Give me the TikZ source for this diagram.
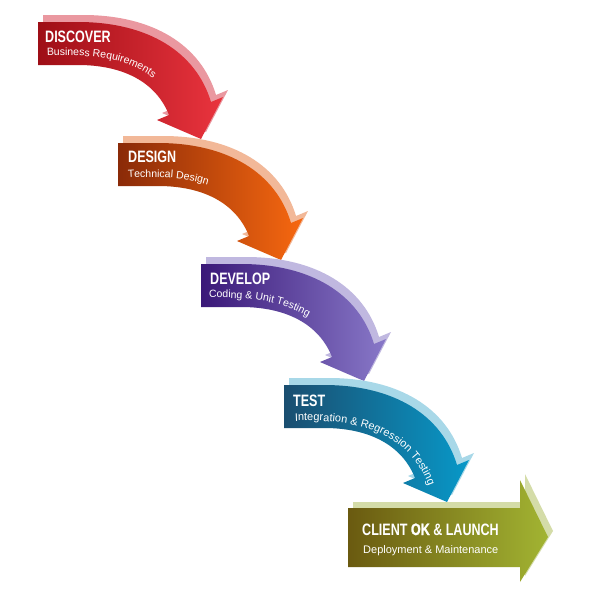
\documentclass[tikz,border=0pt]{standalone}
\usepackage{fontspec}
\usetikzlibrary{decorations.text}
\setmainfont{Liberation Sans}
\newfontfamily\titlefont{Liberation Sans}[FakeStretch=0.76]
\newfontfamily\heavyfont{Liberation Sans}[FakeStretch=0.76,FakeBold=1.5]
\newfontfamily\subfont{Liberation Sans}

\definecolor{discoverdark}{HTML}{9E0E16}
\definecolor{discoverlight}{HTML}{EA343E}
\definecolor{discoverside}{HTML}{EA98A0}
\definecolor{designdark}{HTML}{8A2A08}
\definecolor{designlight}{HTML}{F76810}
\definecolor{designside}{HTML}{F2B898}
\definecolor{developdark}{HTML}{3A1878}
\definecolor{developlight}{HTML}{8878C8}
\definecolor{developside}{HTML}{C0B8E0}
\definecolor{testdark}{HTML}{1A4E70}
\definecolor{testlight}{HTML}{0898C8}
\definecolor{testside}{HTML}{A8D8E8}
\definecolor{launchdark}{HTML}{6A5A10}
\definecolor{launchlight}{HTML}{A2B432}
\definecolor{launchside}{HTML}{D4DCA8}

% curved stage arrow: x, y, dark, light, side colour
\newcommand{\stagearrow}[5]{%
  \begin{scope}[shift={(#1,#2)}]
    \fill [#5] (5,-7) -- (45,-7) .. controls (115,-7) and (163,23) .. (178,73) -- (190,68) -- (168,110) -- (124,91) -- (136,86) .. controls (123,53) and (90,36) .. (45,36) -- (5,36) -- cycle;
    \shade [left color=#3, right color=#4] (0,0) -- (40,0) .. controls (110,0) and (158,30) .. (173,80) -- (185,75) -- (163,117) -- (119,98) -- (131,93) .. controls (118,60) and (85,43) .. (40,43) -- (0,43) -- cycle;
  \end{scope}}

\begin{document}
\begin{tikzpicture}[x=1pt,y=-1pt]
        \tikzstyle{title}=[text=white, inner sep=0pt, anchor=base west, font=\titlefont\bfseries\fontsize{16.5}{18}\selectfont]
        \tikzstyle{subtitle}=[text=white, inner sep=0pt, anchor=base west, font=\subfont\fontsize{11}{13}\selectfont]
        \tikzstyle{curved}=[decorate, decoration={text along path, text align=left}]
        \fill [white] (0,0) rectangle (600,600);
        \useasboundingbox (0,0) rectangle (600,600);
        % the four curved stages
        \stagearrow{38}{22}{discoverdark}{discoverlight}{discoverside}
        \stagearrow{118}{143}{designdark}{designlight}{designside}
        \stagearrow{201}{264}{developdark}{developlight}{developside}
        \stagearrow{284}{385}{testdark}{testlight}{testside}
        % launch stage
        \fill [launchside] (353,502) -- (525,502) -- (525,474) -- (553,531) -- (525,576) -- (525,561) -- (353,561) -- cycle;
        \shade [left color=launchdark, right color=launchlight] (348,508) -- (520,508) -- (520,480) -- (548,537) -- (520,582) -- (520,567) -- (348,567) -- cycle;
        % titles
        \node [title] (discover) at (45,42) {DISCOVER};
        \node [title] (design) at (128,162) {DESIGN};
        \node [title] (develop) at (210,284) {DEVELOP};
        \node [title] (test) at (293,406) {TEST};
        \node [title] (launch) at (362,535) {CLIENT {\heavyfont\bfseries OK} \& LAUNCH};
        % subtitles
        \path [curved, decoration={text={|\subfont\fontsize{10.5}{12}\selectfont\color{white}|Business Requirements}}] (47,56) .. controls (105,54) and (135,60) .. (165,88);
        \path [curved, decoration={text={|\subfont\fontsize{10.5}{12}\selectfont\color{white}|Technical Design}}] (128,178) .. controls (165,176) and (195,178) .. (222,190);
        \path [curved, decoration={text={|\subfont\fontsize{10.5}{12}\selectfont\color{white}|Coding {\&} Unit Testing}}] (209,298) .. controls (255,297) and (290,302) .. (322,326);
        \path [curved, decoration={text={|\subfont\fontsize{11}{13}\selectfont\color{white}|Integration {\&} Regression Testing}}] (295,421) .. controls (365,418) and (420,436) .. (434,505);
        \node [subtitle] (deploy) at (363,553) {Deployment \& Maintenance};
\end{tikzpicture}
\end{document}
